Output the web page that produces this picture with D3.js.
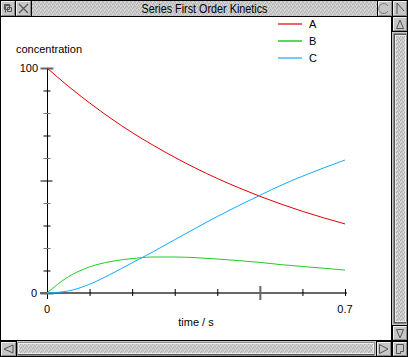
<!DOCTYPE html>
<html><head><meta charset="utf-8">
<script src="https://cdn.jsdelivr.net/npm/d3@7"></script>
<style>
html,body{margin:0;padding:0;background:#fff;}
svg{display:block;}
text{font-family:"Liberation Sans",Arial,sans-serif;}
</style></head><body>
<svg id="c" width="408" height="357"></svg>
<script>
const title = "Series First Order Kinetics";
const times = [0,0.05,0.1,0.15,0.2,0.25,0.3,0.35,0.4,0.45,0.5,0.55,0.6,0.65,0.7];
const seriesA = [100,91.9,84.5,77.6,71.3,65.6,60.3,55.4,50.9,46.8,43.0,39.5,36.3,33.4,30.7];
const seriesB = [0,7.2,11.6,14.0,15.3,16.0,16.0,15.7,15.1,14.4,13.6,12.6,11.8,11.0,10.2];
const seriesC = [0,0.9,3.9,8.4,13.4,18.4,23.7,28.9,34.0,38.8,43.4,47.9,51.9,55.6,59.1];
const seriesNames = ["A","B","C"];
const seriesColors = ["#e00000","#22cc22","#11aaff"];
const xTicks = [0,0.1,0.2,0.3,0.4,0.5,0.6,0.7];
const xTickLabels = ["0","0.7"];
const yTicks = [0,10,20,30,40,50,60,70,80,90,100];
const yTickLabels = ["0","100"];
const xLabel = "time / s";
const yLabel = "concentration";

const svg = d3.select("#c");
const W=408,H=357;

// texture pattern
const defs = svg.append("defs");
const pat = defs.append("pattern").attr("id","tex").attr("width",4).attr("height",4).attr("patternUnits","userSpaceOnUse");
pat.append("rect").attr("width",4).attr("height",4).attr("fill","#cacaca");
[[0,0],[2,1],[1,3],[3,2]].forEach(([a,b])=>pat.append("rect").attr("x",a).attr("y",b).attr("width",1).attr("height",1).attr("fill","#b0b0b0"));
[[1,1],[3,0],[0,2]].forEach(([a,b])=>pat.append("rect").attr("x",a).attr("y",b).attr("width",1).attr("height",1).attr("fill","#dcdcdc"));

// window frame
svg.append("rect").attr("x",0).attr("y",0).attr("width",W).attr("height",H).attr("fill","#fff");
// title bar
svg.append("rect").attr("x",0).attr("y",0).attr("width",W).attr("height",17).attr("fill","url(#tex)");
svg.append("line").attr("x1",0).attr("x2",W).attr("y1",16.5).attr("y2",16.5).attr("stroke","#000");
function btn(x,y,w,h){
  svg.append("rect").attr("x",x+0.5).attr("y",y+0.5).attr("width",w-1).attr("height",h-1).attr("fill","#c6c6c6").attr("stroke","#000");
  svg.append("path").attr("d",`M${x+1.5},${y+h-1.5}V${y+1.5}H${x+w-1.5}`).attr("fill","none").attr("stroke","#eee");
  svg.append("path").attr("d",`M${x+1.5},${y+h-1.5}H${x+w-1.5}V${y+1.5}`).attr("fill","none").attr("stroke","#888");
}
btn(0,0,16,17); btn(15,0,17,17); btn(377,0,16,17); btn(392,0,16,17);
// icons
svg.append("path").attr("d","M5.5,12.5V5.5H10.5M4.5,4.5H9.5V9.5H4.5Z M7.5,7.5H11.5V11.5H7.5Z").attr("fill","none").attr("stroke","#555");
svg.append("path").attr("d","M19,4L28,13M28,4L19,13").attr("fill","none").attr("stroke","#555").attr("stroke-width",1.2);
svg.append("path").attr("d","M388,6A5,5 0 1 0 388,11").attr("fill","none").attr("stroke","#777");
svg.append("path").attr("d","M397,3V14M397,3L404,11").attr("fill","none").attr("stroke","#555");
svg.append("text").attr("x",204.5).attr("y",12.5).attr("text-anchor","middle").attr("font-size",12)
  .attr("textLength",126).attr("lengthAdjust","spacingAndGlyphs").attr("fill","#000").text(title);

// right scrollbar
svg.append("rect").attr("x",392).attr("y",16).attr("width",16).attr("height",325).attr("fill","#c6c6c6");
svg.append("line").attr("x1",391.5).attr("x2",391.5).attr("y1",16).attr("y2",357).attr("stroke","#000");
btn(392,16,16,16); btn(392,325,16,16);
svg.append("path").attr("d","M396.5,28.5L400,20L403.5,28.5Z").attr("fill","none").attr("stroke","#555");
svg.append("path").attr("d","M396.5,329.5L400,338L403.5,329.5Z").attr("fill","none").attr("stroke","#555");
svg.append("rect").attr("x",393.5).attr("y",33.5).attr("width",13).attr("height",290).attr("fill","#555");
svg.append("rect").attr("x",395.5).attr("y",35.5).attr("width",10).attr("height",286).attr("fill","url(#tex)").attr("stroke","#eee");
// bottom scrollbar
svg.append("rect").attr("x",0).attr("y",341).attr("width",W).attr("height",16).attr("fill","#c6c6c6");
svg.append("line").attr("x1",0).attr("x2",W).attr("y1",340.5).attr("y2",340.5).attr("stroke","#000");
btn(0,341,17,16); btn(376,341,16,16); btn(392,341,16,16);
svg.append("path").attr("d","M13,345L4,349L13,353Z").attr("fill","none").attr("stroke","#555");
svg.append("path").attr("d","M379.5,344.5L388,349L379.5,353.5Z").attr("fill","none").attr("stroke","#555");
svg.append("path").attr("d","M396.5,353.5V344.5H403.5V351.5H400.5V353.5Z").attr("fill","none").attr("stroke","#555");
svg.append("rect").attr("x",17.5).attr("y",342.5).attr("width",357).attr("height",13).attr("fill","#555");
svg.append("rect").attr("x",18.5).attr("y",343.5).attr("width",355).attr("height",10).attr("fill","url(#tex)").attr("stroke","#eee");
// outer border
svg.append("rect").attr("x",0.5).attr("y",0.5).attr("width",W-1).attr("height",H-1).attr("fill","none").attr("stroke","#000");

// chart
const x = d3.scaleLinear().domain([0,0.7]).range([47,345]);
const y = d3.scaleLinear().domain([0,100]).range([293,68]);
const g = svg.append("g");

// x axis line
g.append("line").attr("x1",40).attr("x2",347).attr("y1",293).attr("y2",293).attr("stroke","#666").attr("stroke-width",2);
// y axis
g.append("line").attr("x1",47.5).attr("x2",47.5).attr("y1",y(100)).attr("y2",299).attr("stroke","#000");

const xAx = d3.axisBottom(x).tickValues(xTicks.slice(1)).tickSize(4).tickFormat("");
const xg = g.append("g").attr("transform","translate(0,292)").call(xAx);
xg.select(".domain").remove();
xg.selectAll(".tick line").attr("y1",-3).attr("y2",4).attr("stroke","#000")
  .filter(d=>Math.abs(d-0.5)<1e-9).attr("y1",-6).attr("y2",8).attr("stroke","#666").attr("stroke-width",2);

const yAx = d3.axisLeft(y).tickValues(yTicks).tickSize(4).tickFormat("");
const yg = g.append("g").attr("transform","translate(47.5,0)").call(yAx);
yg.select(".domain").remove();
yg.selectAll(".tick line").attr("x1",3).attr("x2",-4).attr("stroke",d=>(d%20===0)?"#777":"#000");
yg.selectAll(".tick line").filter(d=>d===50).attr("x1",5).attr("x2",-7).attr("stroke","#000");
yg.selectAll(".tick line").filter(d=>d===0||d===100).attr("x1",6).attr("x2",-7).attr("stroke","#666").attr("stroke-width",2);

// tick labels
g.append("text").attr("x",38).attr("y",y(100)+4).attr("text-anchor","end").attr("font-size",11).text(yTickLabels[1]);
g.append("text").attr("x",37).attr("y",y(0)+4).attr("text-anchor","end").attr("font-size",11).text(yTickLabels[0]);
g.append("text").attr("x",x(0)).attr("y",313).attr("text-anchor","middle").attr("font-size",11).text(xTickLabels[0]);
g.append("text").attr("x",x(0.7)).attr("y",313).attr("text-anchor","middle").attr("font-size",11).text(xTickLabels[1]);
g.append("text").attr("x",196).attr("y",326).attr("text-anchor","middle").attr("font-size",11).text(xLabel);
g.append("text").attr("x",16).attr("y",53).attr("font-size",11).text(yLabel);

// lines
const data = [seriesA,seriesB,seriesC];
const line = d3.line().x((d,i)=>x(times[i])).y(d=>y(d)).curve(d3.curveMonotoneX);
data.forEach((s,k)=>{
  g.append("path").datum(s).attr("d",line).attr("fill","none").attr("stroke",seriesColors[k]).attr("stroke-width",1);
});

// legend
seriesNames.forEach((n,k)=>{
  const ly = 24 + k*17;
  g.append("line").attr("x1",278).attr("x2",302).attr("y1",ly).attr("y2",ly).attr("stroke",seriesColors[k]).attr("stroke-width",k===1?1.5:1.2);
  g.append("text").attr("x",309).attr("y",ly+4).attr("font-size",11).text(n);
});
</script>
</body></html>
